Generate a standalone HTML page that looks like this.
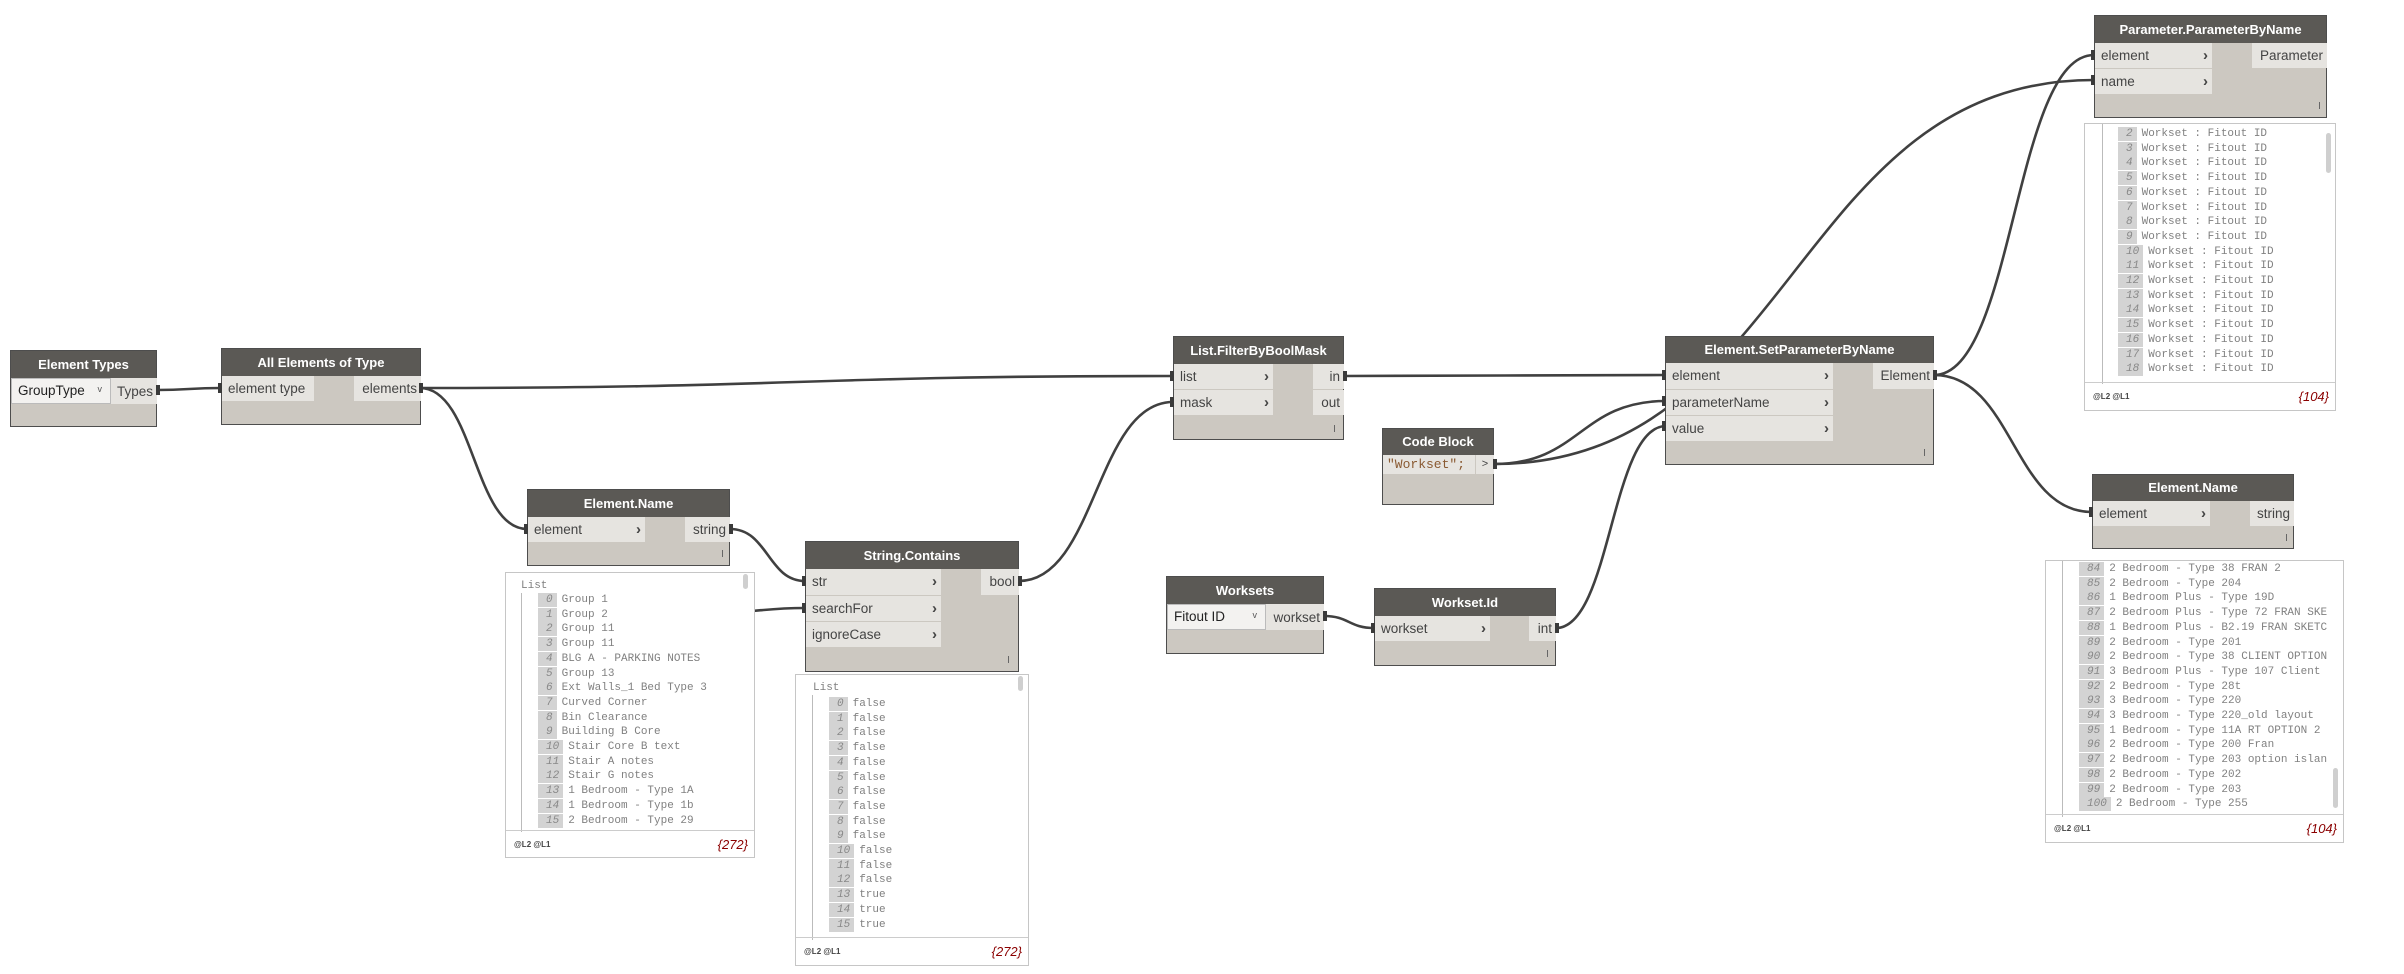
<!DOCTYPE html>
<html><head><meta charset="utf-8"><style>
body{margin:0;width:2404px;height:974px;background:#fff;position:relative;overflow:hidden;font-family:"Liberation Sans",sans-serif}
.n{position:absolute;background:#ccc8c1;border:1px solid #4d4d4d;box-sizing:border-box}
.h{position:absolute;left:0;right:0;top:0;background:#5b5955;color:#fff;font-weight:bold;font-size:13px;text-align:center}
.r{position:absolute;background:#e6e4e0;color:#444;font-size:13.5px;box-sizing:border-box;padding-left:6px;white-space:nowrap}
.o{position:absolute;background:#e6e4e0;color:#444;font-size:13.5px;text-align:right;padding-right:4px;box-sizing:border-box;white-space:nowrap}
.ch{position:absolute;right:4px;top:0;font-weight:bold;color:#444;font-size:15px}
.dd{position:absolute;background:#f3f2f0;border:1px solid #bbb;box-sizing:border-box;color:#222;font-size:13.5px;padding-left:6px}
.dd b{position:absolute;right:8px;top:-2px;font-weight:normal;font-size:9px;color:#555}
.tk{position:absolute;width:1px;height:7px;background:#666}
.w{position:absolute;background:#fff;border:1px solid #c6c6c6;box-sizing:border-box;font-family:"Liberation Mono",monospace;font-size:11px;color:#808080}
.w .c{position:absolute;left:0;right:0;top:0;overflow:hidden}
.w .vl{position:absolute;left:15px;width:1px;background:#bbb}
.row{position:absolute;height:14px;line-height:14px;white-space:nowrap}
.ix{display:inline-block;background:#d3d3d3;color:#888;font-style:italic;padding:0 4px 0 8px;margin-right:5px;text-align:right}
.ft{position:absolute;left:0;right:0;bottom:0;border-top:1px solid #ccc;font-family:"Liberation Sans",sans-serif}
.ft .l{position:absolute;left:8px;top:9px;font-size:8px;font-weight:bold;color:#444}
.ft .cnt{position:absolute;right:6px;top:6px;font-size:13px;font-style:italic;color:#8b0000}
.sb{position:absolute;width:5px;background:#cfcfcf;border-radius:3px}
</style></head><body>
<svg width="2404" height="974" style="position:absolute;left:0;top:0" fill="none" stroke="#404040" stroke-width="2.6">
<path d="M157 390 C189 390,189 388,221 388"/>
<path d="M420 388 C796 388,796 376,1173 376"/>
<path d="M420 388 C474 388,474 529,527 529"/>
<path d="M730 529 C768 529,768 581,805 581"/>
<path d="M700 613 C760 613,760 608,805 608"/>
<path d="M1019 581 C1096 581,1096 402,1173 402"/>
<path d="M1344 376 C1505 376,1505 375,1666 375"/>
<path d="M1494 464 C1580 464,1580 401,1666 401"/>
<path d="M1494 464 C1794 464,1794 80,2094 80"/>
<path d="M1324 616 C1349 616,1349 628,1374 628"/>
<path d="M1556 628 C1611 628,1611 426,1666 426"/>
<path d="M1934 375 C2014 375,2014 55,2094 55"/>
<path d="M1934 375 C2013 375,2013 512,2092 512"/>
</svg>

<!-- Element Types -->
<div class="n" style="left:10px;top:350px;width:147px;height:77px">
<div class="h" style="height:27px;line-height:27px">Element Types</div>
<div class="dd" style="left:0;top:27px;width:100px;height:26px;line-height:24px">GroupType<b>v</b></div>
<div class="o" style="left:100px;top:27px;width:46px;height:26px;line-height:28px">Types</div>
</div>
<!-- All Elements -->
<div class="n" style="left:221px;top:348px;width:200px;height:77px">
<div class="h" style="height:27px;line-height:27px">All Elements of Type</div>
<div class="r" style="left:0;top:27px;width:92px;height:25px;line-height:25px">element type</div>
<div class="o" style="left:132px;top:27px;width:67px;height:25px;line-height:25px">elements</div>
</div>
<!-- Element.Name -->
<div class="n" style="left:527px;top:489px;width:203px;height:77px">
<div class="h" style="height:27px;line-height:27px">Element.Name</div>
<div class="r" style="left:0;top:27px;width:117px;height:25px;line-height:25px">element<span class="ch">&#x203A;</span></div>
<div class="o" style="left:157px;top:27px;width:45px;height:25px;line-height:25px">string</div>
<div class="tk" style="right:6px;bottom:8px"></div>
</div>
<!-- Watch 1 -->
<div class="w" style="left:505px;top:572px;width:250px;height:286px">
<div class="c" style="height:259px">
<div class="row" style="left:15px;top:6px">List</div>
<div class="vl" style="top:20px;height:240px"></div>
<div class="row" style="left:32px;top:20px"><span class="ix">0</span>Group 1</div>
<div class="row" style="left:32px;top:34.7px"><span class="ix">1</span>Group 2</div>
<div class="row" style="left:32px;top:49.4px"><span class="ix">2</span>Group 11</div>
<div class="row" style="left:32px;top:64.1px"><span class="ix">3</span>Group 11</div>
<div class="row" style="left:32px;top:78.8px"><span class="ix">4</span>BLG A - PARKING NOTES</div>
<div class="row" style="left:32px;top:93.5px"><span class="ix">5</span>Group 13</div>
<div class="row" style="left:32px;top:108.2px"><span class="ix">6</span>Ext Walls_1 Bed Type 3</div>
<div class="row" style="left:32px;top:122.9px"><span class="ix">7</span>Curved Corner</div>
<div class="row" style="left:32px;top:137.6px"><span class="ix">8</span>Bin Clearance</div>
<div class="row" style="left:32px;top:152.3px"><span class="ix">9</span>Building B Core</div>
<div class="row" style="left:32px;top:167px"><span class="ix">10</span>Stair Core B text</div>
<div class="row" style="left:32px;top:181.7px"><span class="ix">11</span>Stair A notes</div>
<div class="row" style="left:32px;top:196.4px"><span class="ix">12</span>Stair G notes</div>
<div class="row" style="left:32px;top:211.1px"><span class="ix">13</span>1 Bedroom - Type 1A</div>
<div class="row" style="left:32px;top:225.8px"><span class="ix">14</span>1 Bedroom - Type 1b</div>
<div class="row" style="left:32px;top:240.5px"><span class="ix">15</span>2 Bedroom - Type 29</div>
</div>
<div class="sb" style="left:237px;top:1px;height:15px"></div>
<div class="ft" style="height:26px"><span class="l">@L2 @L1</span><span class="cnt">{272}</span></div>
</div>
<!-- String.Contains -->
<div class="n" style="left:805px;top:541px;width:214px;height:131px">
<div class="h" style="height:27px;line-height:27px">String.Contains</div>
<div class="r" style="left:0;top:27px;width:135px;height:26px;line-height:26px">str<span class="ch">&#x203A;</span></div>
<div class="r" style="left:0;top:54px;width:135px;height:25px;line-height:25px">searchFor<span class="ch">&#x203A;</span></div>
<div class="r" style="left:0;top:80px;width:135px;height:25px;line-height:25px">ignoreCase<span class="ch">&#x203A;</span></div>
<div class="o" style="left:175px;top:27px;width:38px;height:26px;line-height:26px">bool</div>
<div class="tk" style="right:9px;bottom:8px"></div>
</div>
<!-- Watch 2 -->
<div class="w" style="left:795px;top:674px;width:234px;height:292px">
<div class="c" style="height:265px">
<div class="row" style="left:17px;top:6px">List</div>
<div class="vl" style="left:16px;top:20px;height:250px"></div>
<div class="row" style="left:33px;top:22px"><span class="ix">0</span>false</div>
<div class="row" style="left:33px;top:36.7px"><span class="ix">1</span>false</div>
<div class="row" style="left:33px;top:51.4px"><span class="ix">2</span>false</div>
<div class="row" style="left:33px;top:66.1px"><span class="ix">3</span>false</div>
<div class="row" style="left:33px;top:80.8px"><span class="ix">4</span>false</div>
<div class="row" style="left:33px;top:95.5px"><span class="ix">5</span>false</div>
<div class="row" style="left:33px;top:110.2px"><span class="ix">6</span>false</div>
<div class="row" style="left:33px;top:124.9px"><span class="ix">7</span>false</div>
<div class="row" style="left:33px;top:139.6px"><span class="ix">8</span>false</div>
<div class="row" style="left:33px;top:154.3px"><span class="ix">9</span>false</div>
<div class="row" style="left:33px;top:169px"><span class="ix">10</span>false</div>
<div class="row" style="left:33px;top:183.7px"><span class="ix">11</span>false</div>
<div class="row" style="left:33px;top:198.4px"><span class="ix">12</span>false</div>
<div class="row" style="left:33px;top:213.1px"><span class="ix">13</span>true</div>
<div class="row" style="left:33px;top:227.8px"><span class="ix">14</span>true</div>
<div class="row" style="left:33px;top:242.5px"><span class="ix">15</span>true</div>
</div>
<div class="sb" style="left:222px;top:1px;height:15px"></div>
<div class="ft" style="height:27px"><span class="l">@L2 @L1</span><span class="cnt">{272}</span></div>
</div>
<!-- FilterByBoolMask -->
<div class="n" style="left:1173px;top:336px;width:171px;height:104px">
<div class="h" style="height:27px;line-height:27px">List.FilterByBoolMask</div>
<div class="r" style="left:0;top:27px;width:99px;height:25px;line-height:25px">list<span class="ch">&#x203A;</span></div>
<div class="r" style="left:0;top:53px;width:99px;height:25px;line-height:25px">mask<span class="ch">&#x203A;</span></div>
<div class="o" style="left:139px;top:27px;width:31px;height:25px;line-height:25px">in</div>
<div class="o" style="left:139px;top:53px;width:31px;height:25px;line-height:25px">out</div>
<div class="tk" style="right:8px;bottom:7px"></div>
</div>
<!-- Code Block -->
<div class="n" style="left:1382px;top:428px;width:112px;height:77px">
<div class="h" style="height:26px;line-height:26px">Code Block</div>
<div class="r" style="left:0;top:26px;width:92px;height:19px;line-height:19px;padding-left:4px;font-family:'Liberation Mono',monospace;font-size:13px;color:#8a5a32">"Workset";</div>
<div class="o" style="left:93px;top:26px;width:18px;height:19px;line-height:19px;font-size:11px;text-align:center;padding:0">&gt;</div>
</div>
<!-- Worksets -->
<div class="n" style="left:1166px;top:576px;width:158px;height:78px">
<div class="h" style="height:27px;line-height:27px">Worksets</div>
<div class="dd" style="left:0;top:27px;width:99px;height:26px;line-height:24px">Fitout ID<b>v</b></div>
<div class="o" style="left:99px;top:27px;width:58px;height:26px;line-height:28px">workset</div>
</div>
<!-- Workset.Id -->
<div class="n" style="left:1374px;top:588px;width:182px;height:78px">
<div class="h" style="height:27px;line-height:27px">Workset.Id</div>
<div class="r" style="left:0;top:27px;width:115px;height:25px;line-height:25px">workset<span class="ch">&#x203A;</span></div>
<div class="o" style="left:154px;top:27px;width:27px;height:25px;line-height:25px">int</div>
<div class="tk" style="right:7px;bottom:8px"></div>
</div>
<!-- SetParameterByName -->
<div class="n" style="left:1665px;top:336px;width:269px;height:129px">
<div class="h" style="height:26px;line-height:26px">Element.SetParameterByName</div>
<div class="r" style="left:0;top:26px;width:167px;height:26px;line-height:26px">element<span class="ch">&#x203A;</span></div>
<div class="r" style="left:0;top:53px;width:167px;height:25px;line-height:25px">parameterName<span class="ch">&#x203A;</span></div>
<div class="r" style="left:0;top:79px;width:167px;height:25px;line-height:25px">value<span class="ch">&#x203A;</span></div>
<div class="o" style="left:207px;top:26px;width:61px;height:26px;line-height:26px">Element</div>
<div class="tk" style="right:8px;bottom:8px"></div>
</div>
<!-- ParameterByName -->
<div class="n" style="left:2094px;top:15px;width:233px;height:103px">
<div class="h" style="height:27px;line-height:27px">Parameter.ParameterByName</div>
<div class="r" style="left:0;top:27px;width:117px;height:25px;line-height:25px">element<span class="ch">&#x203A;</span></div>
<div class="r" style="left:0;top:53px;width:117px;height:25px;line-height:25px">name<span class="ch">&#x203A;</span></div>
<div class="o" style="left:157px;top:27px;width:75px;height:25px;line-height:25px">Parameter</div>
<div class="tk" style="right:6px;bottom:8px"></div>
</div>
<!-- Watch 3 -->
<div class="w" style="left:2084px;top:123px;width:252px;height:288px">
<div class="c" style="height:260px">
<div class="vl" style="left:17px;top:0;height:262px"></div>
<div class="row" style="left:33px;top:3px"><span class="ix">2</span>Workset : Fitout ID</div>
<div class="row" style="left:33px;top:17.7px"><span class="ix">3</span>Workset : Fitout ID</div>
<div class="row" style="left:33px;top:32.4px"><span class="ix">4</span>Workset : Fitout ID</div>
<div class="row" style="left:33px;top:47.1px"><span class="ix">5</span>Workset : Fitout ID</div>
<div class="row" style="left:33px;top:61.8px"><span class="ix">6</span>Workset : Fitout ID</div>
<div class="row" style="left:33px;top:76.5px"><span class="ix">7</span>Workset : Fitout ID</div>
<div class="row" style="left:33px;top:91.2px"><span class="ix">8</span>Workset : Fitout ID</div>
<div class="row" style="left:33px;top:105.9px"><span class="ix">9</span>Workset : Fitout ID</div>
<div class="row" style="left:33px;top:120.6px"><span class="ix">10</span>Workset : Fitout ID</div>
<div class="row" style="left:33px;top:135.3px"><span class="ix">11</span>Workset : Fitout ID</div>
<div class="row" style="left:33px;top:150px"><span class="ix">12</span>Workset : Fitout ID</div>
<div class="row" style="left:33px;top:164.7px"><span class="ix">13</span>Workset : Fitout ID</div>
<div class="row" style="left:33px;top:179.4px"><span class="ix">14</span>Workset : Fitout ID</div>
<div class="row" style="left:33px;top:194.1px"><span class="ix">15</span>Workset : Fitout ID</div>
<div class="row" style="left:33px;top:208.8px"><span class="ix">16</span>Workset : Fitout ID</div>
<div class="row" style="left:33px;top:223.5px"><span class="ix">17</span>Workset : Fitout ID</div>
<div class="row" style="left:33px;top:238.2px"><span class="ix">18</span>Workset : Fitout ID</div>
</div>
<div class="sb" style="left:241px;top:9px;height:40px"></div>
<div class="ft" style="height:27px"><span class="l">@L2 @L1</span><span class="cnt">{104}</span></div>
</div>
<!-- Element.Name right -->
<div class="n" style="left:2092px;top:474px;width:202px;height:75px">
<div class="h" style="height:26px;line-height:26px">Element.Name</div>
<div class="r" style="left:0;top:26px;width:117px;height:25px;line-height:25px">element<span class="ch">&#x203A;</span></div>
<div class="o" style="left:157px;top:26px;width:44px;height:25px;line-height:25px">string</div>
<div class="tk" style="right:6px;bottom:7px"></div>
</div>
<!-- Watch 4 -->
<div class="w" style="left:2045px;top:560px;width:299px;height:283px">
<div class="c" style="height:256px">
<div class="vl" style="left:16px;top:0;height:258px"></div>
<div class="row" style="left:33px;top:1px"><span class="ix">84</span>2 Bedroom - Type 38 FRAN 2</div>
<div class="row" style="left:33px;top:15.7px"><span class="ix">85</span>2 Bedroom - Type 204</div>
<div class="row" style="left:33px;top:30.4px"><span class="ix">86</span>1 Bedroom Plus - Type 19D</div>
<div class="row" style="left:33px;top:45.1px"><span class="ix">87</span>2 Bedroom Plus - Type 72 FRAN SKE</div>
<div class="row" style="left:33px;top:59.8px"><span class="ix">88</span>1 Bedroom Plus - B2.19 FRAN SKETC</div>
<div class="row" style="left:33px;top:74.5px"><span class="ix">89</span>2 Bedroom - Type 201</div>
<div class="row" style="left:33px;top:89.2px"><span class="ix">90</span>2 Bedroom - Type 38 CLIENT OPTION</div>
<div class="row" style="left:33px;top:103.9px"><span class="ix">91</span>3 Bedroom Plus - Type 107 Client</div>
<div class="row" style="left:33px;top:118.6px"><span class="ix">92</span>2 Bedroom - Type 28t</div>
<div class="row" style="left:33px;top:133.3px"><span class="ix">93</span>3 Bedroom - Type 220</div>
<div class="row" style="left:33px;top:148px"><span class="ix">94</span>3 Bedroom - Type 220_old layout</div>
<div class="row" style="left:33px;top:162.7px"><span class="ix">95</span>1 Bedroom - Type 11A RT OPTION 2</div>
<div class="row" style="left:33px;top:177.4px"><span class="ix">96</span>2 Bedroom - Type 200 Fran</div>
<div class="row" style="left:33px;top:192.1px"><span class="ix">97</span>2 Bedroom - Type 203 option islan</div>
<div class="row" style="left:33px;top:206.8px"><span class="ix">98</span>2 Bedroom - Type 202</div>
<div class="row" style="left:33px;top:221.5px"><span class="ix">99</span>2 Bedroom - Type 203</div>
<div class="row" style="left:33px;top:236.2px"><span class="ix">100</span>2 Bedroom - Type 255</div>
</div>
<div class="sb" style="left:287px;top:207px;height:40px"></div>
<div class="ft" style="height:27px"><span class="l">@L2 @L1</span><span class="cnt">{104}</span></div>
</div>

<svg width="2404" height="974" style="position:absolute;left:0;top:0" fill="#3a3a3a">
<rect x="156" y="385" width="4" height="10"/><rect x="218" y="383" width="4" height="10"/>
<rect x="419" y="383" width="4" height="10"/>
<rect x="524" y="524" width="4" height="10"/><rect x="729" y="524" width="4" height="10"/>
<rect x="802" y="576" width="4" height="10"/><rect x="802" y="603" width="4" height="10"/><rect x="1018" y="576" width="4" height="10"/>
<rect x="1170" y="371" width="4" height="10"/><rect x="1170" y="397" width="4" height="10"/><rect x="1343" y="371" width="4" height="10"/>
<rect x="1493" y="459" width="4" height="10"/>
<rect x="1323" y="611" width="4" height="10"/><rect x="1371" y="623" width="4" height="10"/><rect x="1555" y="623" width="4" height="10"/>
<rect x="1662" y="370" width="4" height="10"/><rect x="1662" y="396" width="4" height="10"/><rect x="1662" y="421" width="4" height="10"/><rect x="1933" y="370" width="4" height="10"/>
<rect x="2091" y="50" width="4" height="10"/><rect x="2091" y="75" width="4" height="10"/>
<rect x="2089" y="507" width="4" height="10"/>
</svg>
</body></html>
